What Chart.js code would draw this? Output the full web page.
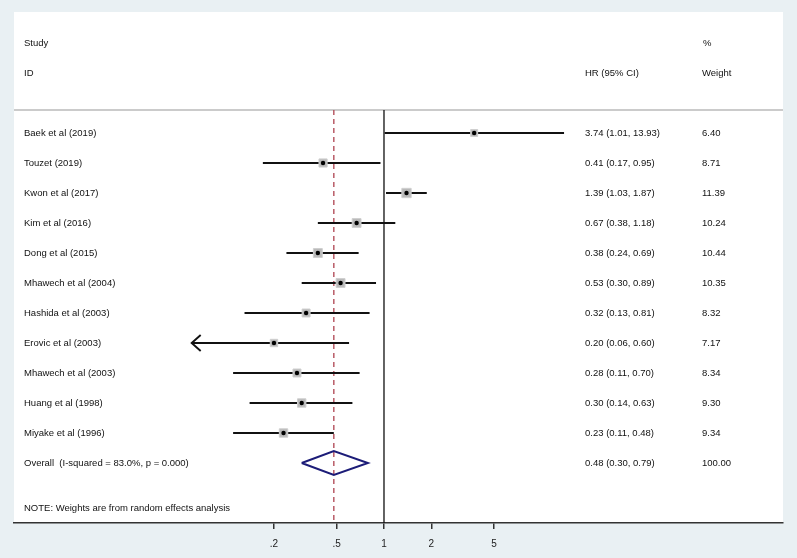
<!DOCTYPE html>
<html>
<head>
<meta charset="utf-8">
<script src="https://cdn.jsdelivr.net/npm/chart.js@4/dist/chart.umd.min.js"></script>
<style>
  html, body { margin: 0; padding: 0; background: #e9f0f3; }
  canvas { display: block; }
</style>
</head>
<body>
<canvas id="forest" width="797" height="558"></canvas>
<script>
const studies = [
  'Baek et al (2019)', 'Touzet (2019)', 'Kwon et al (2017)', 'Kim et al (2016)',
  'Dong et al (2015)', 'Mhawech et al (2004)', 'Hashida et al (2003)', 'Erovic et al (2003)',
  'Mhawech et al (2003)', 'Huang et al (1998)', 'Miyake et al (1996)'
];
const hr = [3.74, 0.41, 1.39, 0.67, 0.38, 0.53, 0.32, 0.20, 0.28, 0.30, 0.23];
const lo = [1.01, 0.17, 1.03, 0.38, 0.24, 0.30, 0.13, 0.06, 0.11, 0.14, 0.11];
const hi = [13.93, 0.95, 1.87, 1.18, 0.69, 0.89, 0.81, 0.60, 0.70, 0.63, 0.48];
const weights = [6.40, 8.71, 11.39, 10.24, 10.44, 10.35, 8.32, 7.17, 8.34, 9.30, 9.34];

const overallLabel = 'Overall  (I-squared = 83.0%, p = 0.000)';
const overallHr = 0.48, overallLo = 0.30, overallHi = 0.79, overallWeight = 100.00;
const note = 'NOTE: Weights are from random effects analysis';

const xTicks = [0.2, 0.5, 1, 2, 5];
const xTickLabels = ['.2', '.5', '1', '2', '5'];
const plotLow = 0.07; // CI ends below this get an arrow

const rowOverall = studies.length;
const rowNote = studies.length + 1.5;
const rowTop = -0.767; // separator line
const fmt = v => v.toFixed(2);

const ciSets = studies.map((s, i) => ({
  data: [{ x: lo[i], y: i }, { x: hi[i], y: i }],
  showLine: true, borderColor: '#111', borderWidth: 1.9, pointRadius: 0, order: 3
}));

const datasets = [
  ...ciSets,
  {
    data: [{ x: 1, y: rowTop }, { x: 1, y: 13 }],
    showLine: true, borderColor: '#111', borderWidth: 1.3, pointRadius: 0, order: 4
  },
  {
    data: [{ x: overallHr, y: rowTop }, { x: overallHr, y: 13 }],
    showLine: true, borderColor: '#b4505c', borderWidth: 1.4, borderDash: [5, 4], pointRadius: 0, order: 5
  },
  {
    data: hr.map((v, i) => ({ x: v, y: i })),
    pointStyle: 'rect', pointRadius: weights.map(w => 1.95 * Math.sqrt(w)),
    backgroundColor: '#b9b9b9', borderColor: '#cfcfcf', borderWidth: 1, order: 1
  },
  {
    data: hr.map((v, i) => ({ x: v, y: i })),
    pointStyle: 'circle', pointRadius: 2.2, backgroundColor: '#000', borderWidth: 0, order: 0
  },
  {
    data: [
      { x: overallLo, y: rowOverall }, { x: overallHr, y: rowOverall - 0.4 },
      { x: overallHi, y: rowOverall }, { x: overallHr, y: rowOverall + 0.4 },
      { x: overallLo, y: rowOverall }
    ],
    showLine: true, borderColor: '#1c1c78', borderWidth: 2, pointRadius: 0, order: 2
  }
];

const tablePlugin = {
  id: 'table',
  beforeDraw(chart) {
    const { ctx, chartArea: a } = chart;
    ctx.save();
    ctx.fillStyle = '#e9f0f3';
    ctx.fillRect(0, 0, chart.width, chart.height);
    ctx.fillStyle = '#ffffff';
    ctx.fillRect(a.left, a.top, a.right - a.left, a.bottom - a.top);
    const y = chart.scales.y.getPixelForValue(rowTop);
    ctx.strokeStyle = '#cbcbcb';
    ctx.lineWidth = 2;
    ctx.beginPath();
    ctx.moveTo(a.left, y);
    ctx.lineTo(a.right, y);
    ctx.stroke();
    ctx.restore();
  },
  afterDatasetsDraw(chart) {
    const { ctx, scales: { x, y } } = chart;
    ctx.save();
    // arrows for CIs that run off the plot range
    ctx.strokeStyle = '#111';
    ctx.lineWidth = 1.9;
    lo.forEach((v, i) => {
      if (v >= plotLow) return;
      const px = x.getPixelForValue(v), py = y.getPixelForValue(i);
      ctx.beginPath();
      ctx.moveTo(px + 9, py - 8);
      ctx.lineTo(px, py);
      ctx.lineTo(px + 9, py + 8);
      ctx.stroke();
    });

    ctx.fillStyle = '#111';
    ctx.font = '9.5px "Liberation Sans", Arial, sans-serif';
    ctx.textBaseline = 'middle';
    const colStudy = 24, colHr = 585, colW = 702;
    const row = r => y.getPixelForValue(r);
    ctx.fillText('Study', colStudy, row(-3));
    ctx.fillText('ID', colStudy, row(-2));
    ctx.fillText('HR (95% CI)', colHr, row(-2));
    ctx.fillText('%', colW + 1, row(-3));
    ctx.fillText('Weight', colW, row(-2));
    studies.forEach((s, i) => {
      ctx.fillText(s, colStudy, row(i));
      ctx.fillText(fmt(hr[i]) + ' (' + fmt(lo[i]) + ', ' + fmt(hi[i]) + ')', colHr, row(i));
      ctx.fillText(fmt(weights[i]), colW, row(i));
    });
    ctx.fillText(overallLabel, colStudy, row(rowOverall));
    ctx.fillText(fmt(overallHr) + ' (' + fmt(overallLo) + ', ' + fmt(overallHi) + ')', colHr, row(rowOverall));
    ctx.fillText(fmt(overallWeight), colW, row(rowOverall));
    ctx.fillText(note, colStudy, row(rowNote));
    ctx.restore();
  }
};

new Chart(document.getElementById('forest'), {
  type: 'scatter',
  data: { datasets },
  options: {
    responsive: false,
    animation: false,
    layout: { padding: { left: 14, right: 14, top: 12, bottom: 0 } },
    plugins: { legend: { display: false }, tooltip: { enabled: false } },
    scales: {
      x: {
        type: 'logarithmic',
        min: 0.00446,
        max: 342.8,
        afterBuildTicks: s => { s.ticks = xTicks.map(v => ({ value: v })); },
        afterFit: s => { s.height = 35; },
        ticks: {
          autoSkip: false, maxRotation: 0, padding: 9,
          color: '#222', font: { size: 10, family: '"Liberation Sans", Arial, sans-serif' },
          callback: (v) => xTickLabels[xTicks.indexOf(v)] ?? ''
        },
        grid: { drawOnChartArea: false, tickLength: 6, color: '#333', lineWidth: 1.5 },
        border: { color: '#333', width: 1.6 }
      },
      y: {
        type: 'linear',
        display: false,
        reverse: true,
        min: -4.033,
        max: 13
      }
    }
  },
  plugins: [tablePlugin]
});
</script>
</body>
</html>
